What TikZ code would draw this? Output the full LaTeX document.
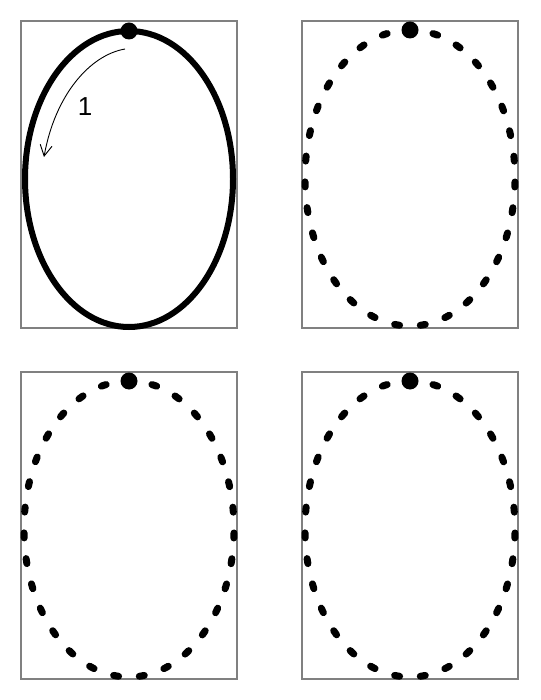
\documentclass[tikz,border=0pt]{standalone}
\usepackage{fontspec}
\setsansfont{Liberation Sans}
\usetikzlibrary{arrows.meta}
\definecolor{framegray}{HTML}{808080}

\begin{document}
\begin{tikzpicture}[x=1pt,y=-1pt,>={Straight Barb[length=11pt,width=12pt]},
  panel/.style={draw=framegray,line width=2.5pt},
  orbit/.style={line width=6pt},
  dashorbit/.style={line width=7pt,line cap=round,dash pattern=on 5pt off 20.83pt,dash phase=2.5pt}]
  \useasboundingbox (0,0) rectangle (540,700);
  % solid orbit with start arrow
  \begin{scope}[shift={(21,21)}]
    \draw[panel] (0,0) rectangle (216,307);
    \coordinate (top1) at (108,10);
    \draw[orbit] (top1) arc[start angle=-90,end angle=270,x radius=104,y radius=148];
    \fill (top1) circle (8.5pt);
    \coordinate (from1) at (104,28);
    \coordinate (to1) at (23,136);
    \draw[->,line width=0.9pt] (from1) .. controls (69,34) and (34,74) .. (to1);
    \node[font=\sffamily\fontsize{26}{26}\selectfont] (lbl1) at (64,86) {1};
  \end{scope}
  % dashed orbits
  \foreach \px/\py [count=\i] in {302/21,21/372,302/372} {
    \begin{scope}[shift={(\px,\py)}]
      \draw[panel] (0,0) rectangle (216,307);
      \coordinate (top\i) at (108,9);
      \draw[dashorbit] (top\i) arc[start angle=-90,end angle=270,x radius=105,y radius=148];
      \fill (top\i) circle (8.5pt);
    \end{scope}
  }
\end{tikzpicture}
\end{document}
